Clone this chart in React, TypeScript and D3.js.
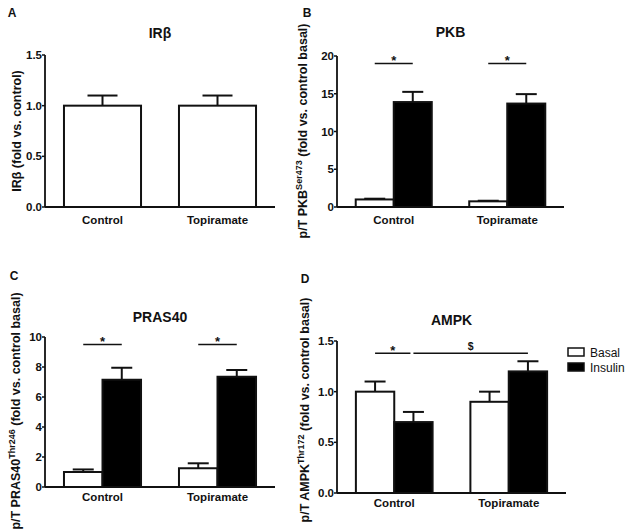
import React from 'react';
import * as d3 from 'd3';

const categories = ['Control', 'Topiramate'];

// A: IRβ
const irbMean = [1.0, 1.0];
const irbSem = [0.1, 0.1];
const irbTicks = [0, 0.5, 1.0, 1.5];

// B: PKB
const pkbBasal = [1.0, 0.75];
const pkbBasalSem = [0.1, 0.08];
const pkbInsulin = [13.9, 13.7];
const pkbInsulinSem = [1.35, 1.25];
const pkbTicks = [0, 5, 10, 15, 20];

// C: PRAS40
const prasBasal = [1.0, 1.25];
const prasBasalSem = [0.17, 0.33];
const prasInsulin = [7.15, 7.35];
const prasInsulinSem = [0.8, 0.45];
const prasTicks = [0, 2, 4, 6, 8, 10];

// D: AMPK
const ampkBasal = [1.0, 0.9];
const ampkBasalSem = [0.1, 0.1];
const ampkInsulin = [0.7, 1.2];
const ampkInsulinSem = [0.1, 0.1];
const ampkTicks = [0, 0.5, 1.0, 1.5];

const legendLabels = ['Basal', 'Insulin'];

const FONT = '"Liberation Sans", Arial, Helvetica, sans-serif';
const INK = '#111';

interface Series {
  name: string;
  values: number[];
  sem: number[];
  fill: string;
}

interface Sig {
  a: [number, number]; // [category index, series index]
  b: [number, number];
  y: number;
  label: string;
  trimEnd?: number;
}

interface PanelProps {
  letter: string;
  letterPos: [number, number];
  title: string;
  yLabel: [string, string, string];
  yLabelPos: [number, number];
  x0: number;
  x1: number;
  yTop: number;
  yBottom: number;
  yMax: number;
  ticks: number[];
  fmt: (n: number) => string;
  series: Series[];
  sigs?: Sig[];
  catLabelY: number;
  titleY: number;
}

function Panel(p: PanelProps) {
  const y = d3.scaleLinear().domain([0, p.yMax]).range([p.yBottom, p.yTop]);
  const x = d3.scaleBand<string>()
    .domain(categories)
    .range([p.x0, p.x1])
    .paddingInner(0.33)
    .paddingOuter(0.165);
  const inner = d3.scaleBand<string>()
    .domain(p.series.map(s => s.name))
    .range([0, x.bandwidth()]);
  const bw = inner.bandwidth();
  const capHalf = bw > 50 ? 15 : 10.5;
  const center = (ci: number, si: number) =>
    (x(categories[ci]) as number) + (inner(p.series[si].name) as number) + bw / 2;
  const plotMid = (p.x0 + p.x1) / 2;

  return (
    <g fontFamily={FONT} fill={INK}>
      <text x={p.letterPos[0]} y={p.letterPos[1]} fontSize={12} fontWeight="bold" textAnchor="middle">{p.letter}</text>
      <text x={plotMid} y={p.titleY} fontSize={14} fontWeight="bold" textAnchor="middle">{p.title}</text>
      <text
        transform={`translate(${p.yLabelPos[0]},${p.yLabelPos[1]}) rotate(-90)`}
        fontSize={12.5}
        fontWeight="bold"
        textAnchor="middle"
        dy="0.35em"
      >
        {p.yLabel[0]}
        {p.yLabel[1] && <tspan fontSize={9} dy={-5.5}>{p.yLabel[1]}</tspan>}
        <tspan dy={p.yLabel[1] ? 5.5 : 0}>{p.yLabel[2]}</tspan>
      </text>

      {/* bars */}
      {categories.map((c, ci) =>
        p.series.map((s, si) => {
          const left = (x(c) as number) + (inner(s.name) as number);
          const top = y(s.values[ci]);
          const errTop = y(s.values[ci] + s.sem[ci]);
          const cx = left + bw / 2;
          return (
            <g key={`${c}-${s.name}`}>
              <line x1={cx} x2={cx} y1={top} y2={errTop} stroke={INK} strokeWidth={2} />
              <line x1={cx - capHalf} x2={cx + capHalf} y1={errTop} y2={errTop} stroke={INK} strokeWidth={2} />
              <rect x={left} y={top} width={bw} height={p.yBottom - top} fill={s.fill} stroke={INK} strokeWidth={2} />
            </g>
          );
        })
      )}

      {/* axes */}
      <line x1={p.x0} x2={p.x0} y1={p.yBottom} y2={y(p.yMax)} stroke={INK} strokeWidth={1.8} />
      <line x1={p.x0} x2={p.x1} y1={p.yBottom} y2={p.yBottom} stroke={INK} strokeWidth={1.8} />
      {p.ticks.map(t => (
        <g key={t}>
          <line x1={p.x0 - 3} x2={p.x0} y1={y(t)} y2={y(t)} stroke={INK} strokeWidth={1.5} />
          <text x={p.x0 - 3} y={y(t)} dy="0.35em" fontSize={11.5} fontWeight="bold" textAnchor="end">{p.fmt(t)}</text>
        </g>
      ))}
      {categories.map(c => (
        <text key={c} x={(x(c) as number) + x.bandwidth() / 2} y={p.catLabelY} fontSize={11.5} fontWeight="bold" textAnchor="middle">{c}</text>
      ))}

      {/* significance */}
      {(p.sigs || []).map((s, i) => {
        const xa = center(s.a[0], s.a[1]);
        const xb = center(s.b[0], s.b[1]) - (s.trimEnd || 0);
        const ly = y(s.y);
        const isStar = s.label === '*';
        return (
          <g key={i}>
            <line x1={xa} x2={xb} y1={ly} y2={ly} stroke={INK} strokeWidth={1.5} />
            <text x={(xa + xb) / 2} y={isStar ? ly + 1.5 : ly - 3} fontSize={isStar ? 13 : 10.5} fontWeight="bold" textAnchor="middle">{s.label}</text>
          </g>
        );
      })}
    </g>
  );
}

export default function App() {
  const f1 = d3.format('.1f');
  const fd = d3.format('d');
  return (
    <svg width={630} height={530} style={{ position: 'absolute', left: 0, top: 0, background: '#fff' }}>
      <rect width={630} height={530} fill="#fff" />
      <Panel
        letter="A" letterPos={[12, 17]} title="IRβ" titleY={38}
        yLabel={['IRβ (fold vs. control)', '', '']} yLabelPos={[17, 131]}
        x0={45} x1={275} yTop={55} yBottom={207} yMax={1.5}
        ticks={irbTicks} fmt={f1} catLabelY={224}
        series={[{ name: 'all', values: irbMean, sem: irbSem, fill: '#fff' }]}
      />
      <Panel
        letter="B" letterPos={[307, 17]} title="PKB" titleY={37}
        yLabel={['p/T PKB', 'Ser473', ' (fold vs. control basal)']} yLabelPos={[303, 131]}
        x0={337} x1={564} yTop={56} yBottom={207} yMax={20}
        ticks={pkbTicks} fmt={fd} catLabelY={224}
        series={[
          { name: 'Basal', values: pkbBasal, sem: pkbBasalSem, fill: '#fff' },
          { name: 'Insulin', values: pkbInsulin, sem: pkbInsulinSem, fill: '#000' },
        ]}
        sigs={[
          { a: [0, 0], b: [0, 1], y: 19, label: '*' },
          { a: [1, 0], b: [1, 1], y: 19, label: '*' },
        ]}
      />
      <Panel
        letter="C" letterPos={[14, 280]} title="PRAS40" titleY={322}
        yLabel={['p/T PRAS40', 'Thr246', ' (fold vs. control basal)']} yLabelPos={[16, 411]}
        x0={45} x1={275} yTop={337} yBottom={487} yMax={10}
        ticks={prasTicks} fmt={fd} catLabelY={501}
        series={[
          { name: 'Basal', values: prasBasal, sem: prasBasalSem, fill: '#fff' },
          { name: 'Insulin', values: prasInsulin, sem: prasInsulinSem, fill: '#000' },
        ]}
        sigs={[
          { a: [0, 0], b: [0, 1], y: 9.5, label: '*' },
          { a: [1, 0], b: [1, 1], y: 9.5, label: '*' },
        ]}
      />
      <Panel
        letter="D" letterPos={[305, 283]} title="AMPK" titleY={325}
        yLabel={['p/T AMPK', 'Thr172', ' (fold vs. control basal)']} yLabelPos={[305, 410]}
        x0={337} x1={566} yTop={341} yBottom={493} yMax={1.5}
        ticks={ampkTicks} fmt={f1} catLabelY={507}
        series={[
          { name: 'Basal', values: ampkBasal, sem: ampkBasalSem, fill: '#fff' },
          { name: 'Insulin', values: ampkInsulin, sem: ampkInsulinSem, fill: '#000' },
        ]}
        sigs={[
          { a: [0, 0], b: [0, 1], y: 1.38, label: '*', trimEnd: 3 },
          { a: [0, 1], b: [1, 1], y: 1.38, label: '$' },
        ]}
      />
      {/* legend for D */}
      <g fontFamily={FONT} fontSize={12} fill={INK}>
        {legendLabels.map((l, i) => (
          <g key={l}>
            <rect x={568} y={348 + i * 15} width={16} height={8} fill={i === 0 ? '#fff' : '#000'} stroke={INK} strokeWidth={1.5} />
            <text x={590} y={356.5 + i * 15}>{l}</text>
          </g>
        ))}
      </g>
    </svg>
  );
}
